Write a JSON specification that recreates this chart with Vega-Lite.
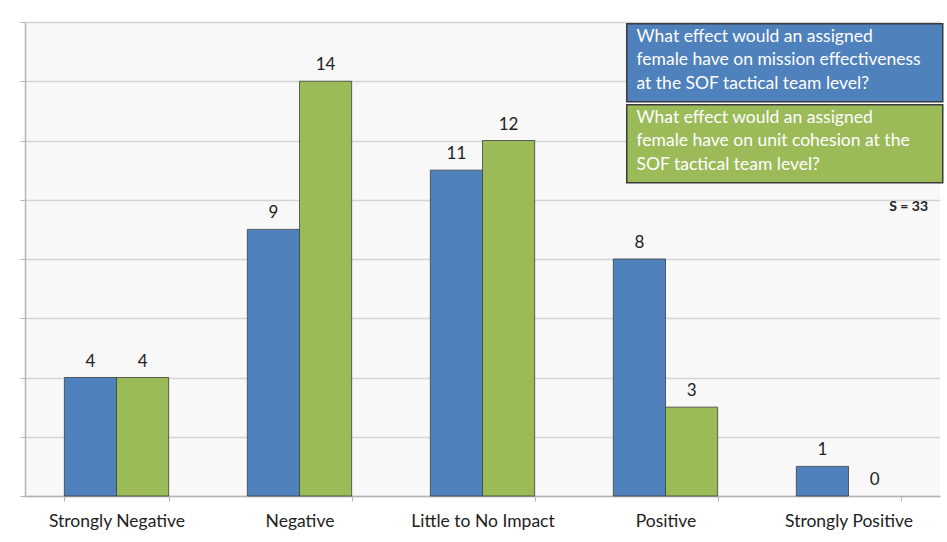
{
  "$schema": "https://vega.github.io/schema/vega-lite/v6.json",
  "width": 915,
  "height": 474,
  "autosize": {"type": "none"},
  "padding": {"left": 25, "top": 22, "right": 7, "bottom": 46},
  "background": "#ffffff",
  "config": {"view": {"fill": "#f8f8f8", "stroke": null}, "font": "Lato"},
  "data": {
    "values": [
      {"response": "Strongly Negative", "question": "What effect would an assigned\nfemale have on mission effectiveness\nat the SOF tactical team level?", "count": 4},
      {"response": "Strongly Negative", "question": "What effect would an assigned\nfemale have on unit cohesion at the\nSOF tactical team level?", "count": 4},
      {"response": "Negative", "question": "What effect would an assigned\nfemale have on mission effectiveness\nat the SOF tactical team level?", "count": 9},
      {"response": "Negative", "question": "What effect would an assigned\nfemale have on unit cohesion at the\nSOF tactical team level?", "count": 14},
      {"response": "Little to No Impact", "question": "What effect would an assigned\nfemale have on mission effectiveness\nat the SOF tactical team level?", "count": 11},
      {"response": "Little to No Impact", "question": "What effect would an assigned\nfemale have on unit cohesion at the\nSOF tactical team level?", "count": 12},
      {"response": "Positive", "question": "What effect would an assigned\nfemale have on mission effectiveness\nat the SOF tactical team level?", "count": 8},
      {"response": "Positive", "question": "What effect would an assigned\nfemale have on unit cohesion at the\nSOF tactical team level?", "count": 3},
      {"response": "Strongly Positive", "question": "What effect would an assigned\nfemale have on mission effectiveness\nat the SOF tactical team level?", "count": 1},
      {"response": "Strongly Positive", "question": "What effect would an assigned\nfemale have on unit cohesion at the\nSOF tactical team level?", "count": 0}
    ]
  },
  "encoding": {
    "x": {
      "field": "response",
      "type": "nominal",
      "sort": ["Strongly Negative", "Negative", "Little to No Impact", "Positive", "Strongly Positive"],
      "scale": {"paddingInner": 0.43, "paddingOuter": 0.215},
      "axis": {
        "title": null,
        "labelAngle": 0,
        "labelFontSize": 17.5,
        "labelColor": "#222222",
        "labelPadding": 11,
        "tickBand": "extent",
        "tickSize": 5,
        "tickColor": "#b5b5b5",
        "domainColor": "#b5b5b5",
        "domainWidth": 1.5,
        "grid": false
      }
    },
    "xOffset": {
      "field": "question",
      "type": "nominal",
      "sort": [
        "What effect would an assigned\nfemale have on mission effectiveness\nat the SOF tactical team level?",
        "What effect would an assigned\nfemale have on unit cohesion at the\nSOF tactical team level?"
      ]
    },
    "y": {
      "field": "count",
      "type": "quantitative",
      "scale": {"domain": [0, 16], "nice": false},
      "axis": {
        "title": null,
        "labels": false,
        "values": [0, 2, 4, 6, 8, 10, 12, 14, 16],
        "tickSize": 5,
        "tickColor": "#b5b5b5",
        "domainColor": "#b5b5b5",
        "domainWidth": 1.5,
        "gridColor": "#d4d4d4",
        "gridWidth": 1.5
      }
    }
  },
  "layer": [
    {
      "mark": {"type": "bar", "stroke": "#3d3d3d", "strokeWidth": 0.8},
      "encoding": {
        "strokeOpacity": {"condition": {"test": "datum.count == 0", "value": 0}, "value": 1},
        "color": {
          "field": "question",
          "type": "nominal",
          "scale": {
            "domain": [
              "What effect would an assigned\nfemale have on mission effectiveness\nat the SOF tactical team level?",
              "What effect would an assigned\nfemale have on unit cohesion at the\nSOF tactical team level?"
            ],
            "range": ["#4F81BD", "#9BBB59"]
          },
          "legend": {
            "orient": "none",
            "legendX": 593,
            "legendY": 32,
            "title": "S = 33",
            "titleOrient": "bottom",
            "titleAnchor": "end",
            "titleFontSize": 14,
            "titleFontWeight": "bold",
            "titleColor": "#222222",
            "titlePadding": 14,
            "symbolType": "M0,-39H316V39H0Z",
            "symbolSize": 4,
            "symbolStrokeColor": "#3a3a3a",
            "symbolStrokeWidth": 1.5,
            "symbolOpacity": 1,
            "labelExpr": "split(datum.label, '\\n')",
            "labelColor": "#ffffff",
            "labelFontSize": 17.5,
            "labelOffset": 1,
            "labelLimit": 0,
            "labelBaseline": "middle",
            "rowPadding": -4,
            "encode": {
              "labels": {"update": {"lineHeight": {"value": 23.5}, "dy": {"value": -26}}},
              "title": {"update": {"dx": {"value": -18}}}
            }
          }
        }
      }
    },
    {
      "mark": {"type": "text", "dy": -7, "baseline": "bottom", "fontSize": 17, "color": "#222222"},
      "encoding": {"text": {"field": "count", "type": "quantitative"}}
    }
  ]
}
